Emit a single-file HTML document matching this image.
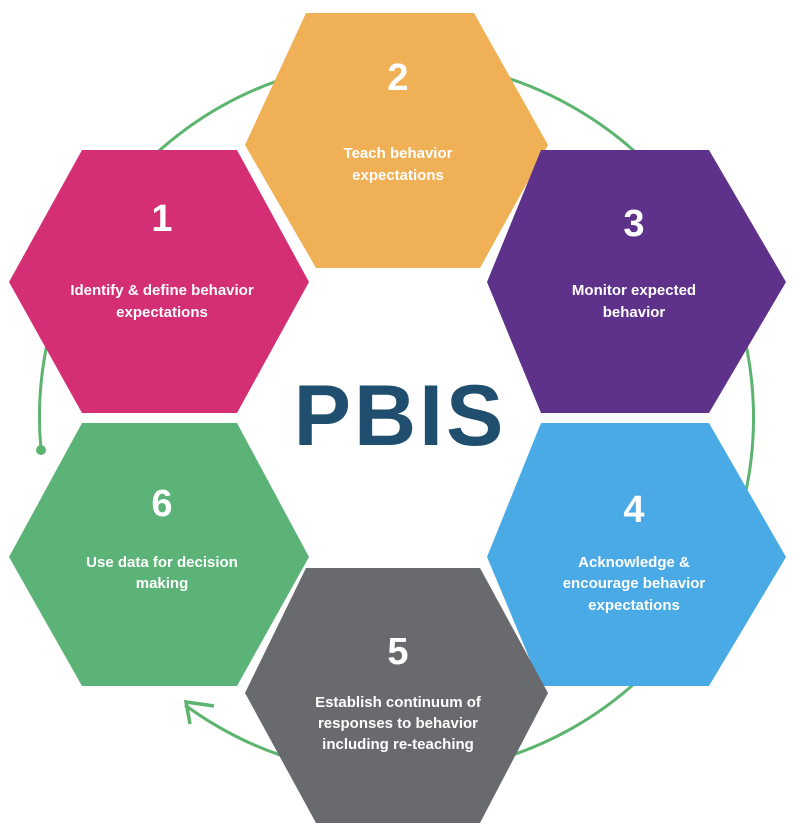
<!DOCTYPE html>
<html><head><meta charset="utf-8"><style>
html,body{margin:0;padding:0;background:#fff;}
svg{display:block;}
text{font-family:"Liberation Sans",sans-serif;font-weight:bold;fill:#fff;text-anchor:middle;}
.n{font-size:38px;}
.l{font-size:15px;}
</style></head><body>
<svg width="800" height="833" viewBox="0 0 800 833" xmlns="http://www.w3.org/2000/svg">
<!-- circle arc -->
<path d="M41,450 A357,357 0 1 1 185,705" fill="none" stroke="#5cb46f" stroke-width="3"/>
<circle cx="41" cy="450" r="5" fill="#5cb46f"/>
<polyline points="214,706 186,702 190,724" fill="none" stroke="#5cb46f" stroke-width="3.5"/>
<!-- hexagons -->
<polygon points="306,13 474,13 548,145 480,268 316,268 245,145" fill="#f0b055"/>
<polygon points="82,150 237,150 309,282 237,413 82,413 9,282" fill="#d42e74"/>
<polygon points="541,150 709,150 786,282 709,413 541,413 487,282" fill="#5e318a"/>
<polygon points="82,423 237,423 309,557 237,686 82,686 9,557" fill="#5cb378"/>
<polygon points="541,423 709,423 786,557 709,686 541,686 487,557" fill="#4aaae6"/>
<polygon points="306,568 480,568 548,693 480,823 316,823 245,693" fill="#696a6e"/>
<!-- center -->
<text x="400" y="445" style="font-size:86px;fill:#1f4e6e;letter-spacing:3px">PBIS</text>
<!-- labels -->
<text class="n" x="398" y="90">2</text>
<text class="l" x="398" y="158">Teach behavior</text>
<text class="l" x="398" y="180">expectations</text>

<text class="n" x="162" y="231">1</text>
<text class="l" x="162" y="295">Identify &amp; define behavior</text>
<text class="l" x="162" y="317">expectations</text>

<text class="n" x="634" y="236">3</text>
<text class="l" x="634" y="295">Monitor expected</text>
<text class="l" x="634" y="317">behavior</text>

<text class="n" x="162" y="516">6</text>
<text class="l" x="162" y="567">Use data for decision</text>
<text class="l" x="162" y="588">making</text>

<text class="n" x="634" y="522">4</text>
<text class="l" x="634" y="567">Acknowledge &amp;</text>
<text class="l" x="634" y="588">encourage behavior</text>
<text class="l" x="634" y="610">expectations</text>

<text class="n" x="398" y="664">5</text>
<text class="l" x="398" y="707">Establish continuum of</text>
<text class="l" x="398" y="728">responses to behavior</text>
<text class="l" x="398" y="749">including re-teaching</text>
</svg>
</body></html>
